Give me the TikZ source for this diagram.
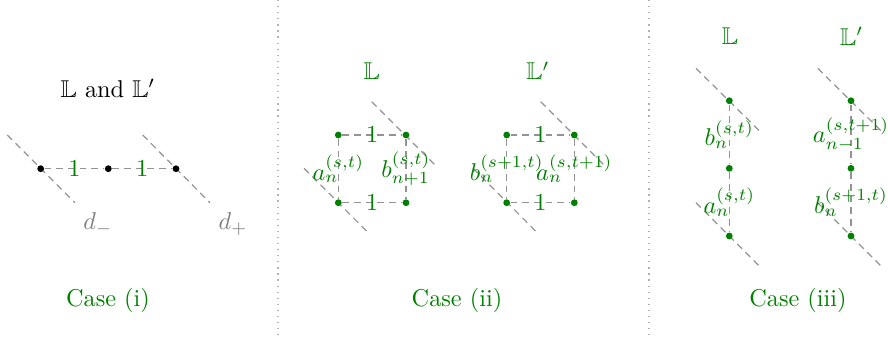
\documentclass[tikz,border=0pt]{standalone}
\usepackage{amssymb}
\begin{document}
\begin{tikzpicture}[x=0.4115pt,y=-0.4115pt,
  dline/.style={dash pattern=on 2.8pt off 2pt,gray!85,line width=0.5pt},
  sep/.style={dotted,gray!60,line width=0.5pt},
  dot/.style={circle,fill=green!50!black,inner sep=0pt,minimum size=2.8pt},
  bdot/.style={circle,fill=black,inner sep=0pt,minimum size=2.8pt},
  gtxt/.style={text=green!50!black,inner sep=0pt},
  dtxt/.style={text=gray,inner sep=0pt}]
\useasboundingbox (0,0) rectangle (888,341);
% separators
\coordinate (s1a) at (278,0); \coordinate (s1b) at (278,336);
\coordinate (s2a) at (649,0); \coordinate (s2b) at (649,336);
\draw[sep] (s1a) -- (s1b);
\draw[sep] (s2a) -- (s2b);

% ---------------- Case (i)
\node[inner sep=0pt] (t1) at (108,88) {$\mathbb{L}$ and $\mathbb{L}'$};
\coordinate (d1a) at (7.3,135); \coordinate (d1b) at (75,202.7);
\coordinate (d2a) at (142.7,135); \coordinate (d2b) at (210,202.7);
\draw[dline] (d1a) -- (d1b);
\draw[dline] (d2a) -- (d2b);
\node[bdot] (p1) at (40.7,168.7) {};
\node[bdot] (p2) at (108.3,168.7) {};
\node[bdot] (p3) at (176,168.7) {};
\draw[dline] (p1) -- node[gtxt]{$1$} (p2);
\draw[dline] (p2) -- node[gtxt]{$1$} (p3);
\node[dtxt] (dm) at (98,224) {$d_-$};
\node[dtxt] (dp) at (233,224) {$d_+$};
\node[gtxt] (c1) at (108,300) {Case (i)};

% ---------------- Case (ii)
\node[gtxt] (h2a) at (371.7,70.7) {$\mathbb{L}$};
\node[gtxt] (h2b) at (538,70.7) {$\mathbb{L}'$};
% left square
\coordinate (e1a) at (371.7,101.7); \coordinate (e1b) at (435,165);
\coordinate (e2a) at (304,168.3); \coordinate (e2b) at (367.3,231.7);
\draw[dline] (e1a) -- (e1b);
\draw[dline] (e2a) -- (e2b);
\node[dot] (q1) at (338.3,135) {};
\node[dot] (q2) at (406,135) {};
\node[dot] (q3) at (338.3,202.7) {};
\node[dot] (q4) at (406,202.7) {};
\draw[dline] (q1) -- node[gtxt]{$1$} (q2);
\draw[dline] (q3) -- node[gtxt]{$1$} (q4);
\draw[dline] (q1) -- node[gtxt]{$a_n^{(s,t)}$} (q3);
\draw[dline] (q2) -- node[gtxt]{$b_{n+1}^{(s,t)}$} (q4);
% right square
\coordinate (f1a) at (540.7,101.7); \coordinate (f1b) at (604,165);
\coordinate (f2a) at (473,168.3); \coordinate (f2b) at (536.3,231.7);
\draw[dline] (f1a) -- (f1b);
\draw[dline] (f2a) -- (f2b);
\node[dot] (r1) at (506.7,135) {};
\node[dot] (r2) at (574.3,135) {};
\node[dot] (r3) at (506.7,202.7) {};
\node[dot] (r4) at (574.3,202.7) {};
\draw[dline] (r1) -- node[gtxt]{$1$} (r2);
\draw[dline] (r3) -- node[gtxt]{$1$} (r4);
\draw[dline] (r1) -- node[gtxt]{$b_n^{(s+1,t)}$} (r3);
\draw[dline] (r2) -- node[gtxt]{$a_n^{(s,t+1)}$} (r4);
\node[gtxt] (c2) at (457,300) {Case (ii)};

% ---------------- Case (iii)
\node[gtxt] (h3a) at (730,36) {$\mathbb{L}$};
\node[gtxt] (h3b) at (851.7,36) {$\mathbb{L}'$};
\coordinate (g1a) at (696,68.3); \coordinate (g1b) at (759.3,130.7);
\coordinate (g2a) at (696,202.7); \coordinate (g2b) at (759.3,266);
\draw[dline] (g1a) -- (g1b);
\draw[dline] (g2a) -- (g2b);
\node[dot] (u1) at (729.3,100.7) {};
\node[dot] (u2) at (729.3,168.3) {};
\node[dot] (u3) at (729.3,236) {};
\draw[dline] (u1) -- node[gtxt]{$b_n^{(s,t)}$} (u2);
\draw[dline] (u2) -- node[gtxt]{$a_n^{(s,t)}$} (u3);
\coordinate (k1a) at (817.7,68.3); \coordinate (k1b) at (881,130.7);
\coordinate (k2a) at (817.7,202.7); \coordinate (k2b) at (881,266);
\draw[dline] (k1a) -- (k1b);
\draw[dline] (k2a) -- (k2b);
\node[dot] (v1) at (851,100.7) {};
\node[dot] (v2) at (851,168.3) {};
\node[dot] (v3) at (851,236) {};
\draw[dline] (v1) -- node[gtxt]{$a_{n-1}^{(s,t+1)}$} (v2);
\draw[dline] (v2) -- node[gtxt]{$b_n^{(s+1,t)}$} (v3);
\node[gtxt] (c3) at (798,300) {Case (iii)};
\end{tikzpicture}
\end{document}
